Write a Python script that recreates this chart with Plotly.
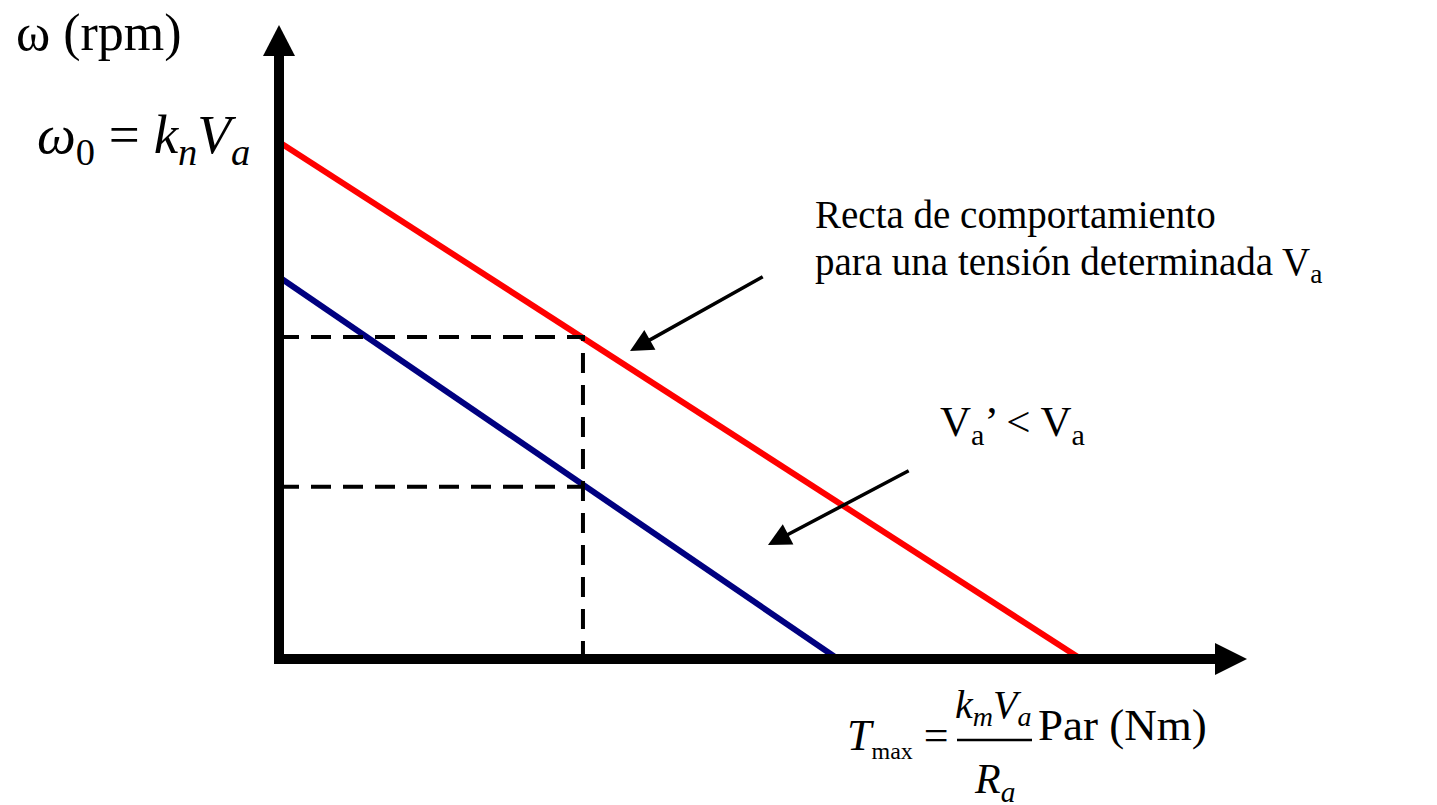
import plotly.graph_objects as go

# ---- Data (normalised units: torque / T_max, speed / omega_0) ----
curve_names = ["Va", "Va' < Va"]
curve_colors = ["#FF0000", "#000080"]
no_load_speed = [1.0, 0.739]        # speed at zero torque for each supply voltage
stall_torque = [1.0, 0.697]         # torque at zero speed for each supply voltage
operating_torque = 0.379            # load torque marked by the dashed guide
operating_speeds = [0.623, 0.333]   # speeds reached at that torque

# ---- Canvas geometry ----
W, H = 1437, 805
X0_PX, Y0_PX = 279, 659   # pixel position of the origin
SX, SY = 802, 517         # pixels per unit on each axis
FONT = "Liberation Serif, Times New Roman, serif"


def dx(px):
    return px / SX


def dy(px):
    return px / SY


def paper_x(px):
    return px / W


def paper_y(py):
    return 1 - py / H


fig = go.Figure()

# Characteristic lines
for name, col, w0, tmax in zip(curve_names, curve_colors, no_load_speed, stall_torque):
    fig.add_trace(go.Scatter(
        x=[0, tmax], y=[w0, 0], mode="lines", name=name,
        line=dict(color=col, width=6), hoverinfo="skip", showlegend=False))

# Dashed guides at the operating torque
fig.add_trace(go.Scatter(
    x=[0, operating_torque, operating_torque],
    y=[operating_speeds[0], operating_speeds[0], 0],
    mode="lines", line=dict(color="black", width=4, dash="20px,12px"),
    hoverinfo="skip", showlegend=False))
fig.add_trace(go.Scatter(
    x=[0, operating_torque], y=[operating_speeds[1], operating_speeds[1]],
    mode="lines", line=dict(color="black", width=4, dash="20px,12px"),
    hoverinfo="skip", showlegend=False))

# Axes with arrow heads
x_tip, y_tip = dx(1247 - X0_PX), dy(Y0_PX - 25)
head_len_x, head_half_x = dx(32), dy(16)
head_len_y, head_half_y = dy(31), dx(16)
shapes = [
    dict(type="line", x0=0, y0=-dy(5), x1=0, y1=y_tip - head_len_y + dy(2),
         line=dict(color="black", width=10), layer="above"),
    dict(type="line", x0=0, y0=0, x1=x_tip - head_len_x + dx(2), y1=0,
         line=dict(color="black", width=10), layer="above"),
    dict(type="path",
         path=f"M {x_tip},0 L {x_tip - head_len_x},{head_half_x} L {x_tip - head_len_x},{-head_half_x} Z",
         fillcolor="black", line=dict(width=0), layer="above"),
    dict(type="path",
         path=f"M 0,{y_tip} L {-head_half_y},{y_tip - head_len_y} L {head_half_y},{y_tip - head_len_y} Z",
         fillcolor="black", line=dict(width=0), layer="above"),
    # fraction bar of T_max
    dict(type="line", xref="paper", yref="paper",
         x0=paper_x(957), x1=paper_x(1032), y0=paper_y(740), y1=paper_y(740),
         line=dict(color="black", width=2.5)),
]

annotations = []


def label(text, xp, yp, size, xanchor="left", yanchor="middle"):
    annotations.append(dict(
        text=text, xref="paper", yref="paper", x=paper_x(xp), y=paper_y(yp),
        xanchor=xanchor, yanchor=yanchor, align=xanchor if xanchor != "center" else "center",
        showarrow=False, font=dict(family=FONT, size=size, color="black")))


label("ω (rpm)", 14, 33, 52)
label("<i>ω</i><sub>0</sub> = <i>k</i><sub><i>n</i></sub><i>V</i><sub><i>a</i></sub>",
      252, 138, 55, xanchor="right")
label("Recta de comportamiento", 813, 215, 39)
label("para una tensión determinada V<sub>a</sub>", 813, 264, 39)
label("V<sub>a</sub>’ < V<sub>a</sub>", 938, 425, 43)
label("Par (Nm)", 1036, 725, 45)
label("<i>T</i><sub><span style='font-size:24px'>max</span></sub> =", 951, 737, 44,
      xanchor="right")
label("<i>k</i><sub><i>m</i></sub><i>V</i><sub><i>a</i></sub>", 993, 707, 40, xanchor="center")
label("<i>R</i><sub><i>a</i></sub>", 994, 782, 42, xanchor="center")

# Pointer arrows to the two characteristic lines
for (tx, ty), (hx, hy) in [((0.605, 0.741), (0.4377, 0.5957)),
                           ((0.787, 0.3656), (0.6097, 0.2205))]:
    annotations.append(dict(
        x=hx, y=hy, ax=tx, ay=ty, xref="x", yref="y", axref="x", ayref="y",
        text="", showarrow=True, arrowhead=2, arrowsize=1.3, arrowwidth=3.5,
        arrowcolor="black"))

fig.update_layout(
    width=W, height=H, margin=dict(l=0, r=0, t=0, b=0),
    paper_bgcolor="white", plot_bgcolor="white",
    xaxis=dict(range=[-dx(X0_PX), dx(W - X0_PX)], visible=False, fixedrange=True),
    yaxis=dict(range=[-dy(H - Y0_PX), dy(Y0_PX)], visible=False, fixedrange=True),
    shapes=shapes, annotations=annotations, showlegend=False,
)

fig.write_html("out.html", config={"displayModeBar": False})
